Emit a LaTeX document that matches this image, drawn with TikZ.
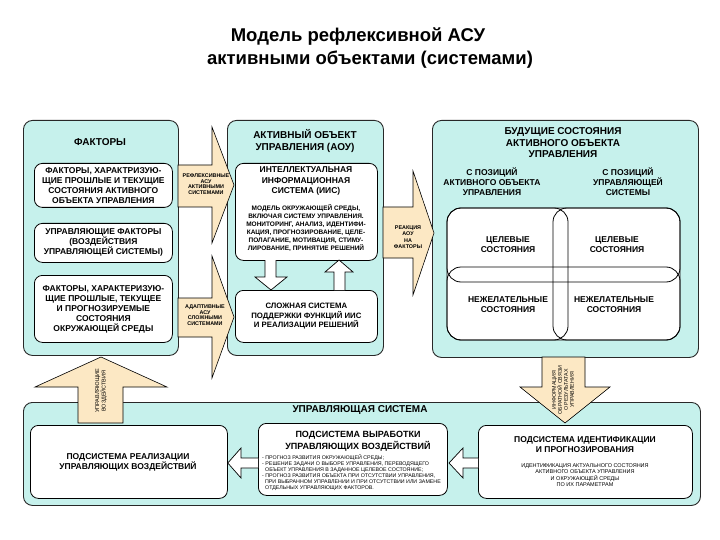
\documentclass[tikz,border=0pt]{standalone}
\usepackage{fontspec}
\setmainfont{Liberation Sans}
\definecolor{panelc}{RGB}{198,241,236}
\definecolor{arrowc}{RGB}{252,232,196}
\definecolor{edgec}{RGB}{40,40,40}
\newcommand{\fs}[2]{\fontsize{#1}{#2}\selectfont}
\begin{document}
\begin{tikzpicture}[x=1pt,y=-1pt,
  panel/.style={draw=edgec, fill=panelc, rounded corners=9pt, line width=0.9pt, anchor=north west, inner sep=0pt},
  wbox/.style={draw=black, fill=white, rounded corners=8pt, line width=0.8pt, anchor=north west, inner sep=0pt},
  barrow/.style={draw=black, fill=arrowc, line width=0.6pt, line join=miter},
  harrow/.style={draw=black, fill=white, line width=0.7pt},
  venn/.style={rounded corners=14pt, line width=0.8pt},
  txt/.style={align=center, inner sep=0pt, font=\bfseries\fs{8.5}{10}},
  head/.style={align=center, inner sep=0pt, font=\bfseries\fs{10}{11.5}},
  tiny/.style={align=center, inner sep=0pt, font=\bfseries\fs{5.4}{5.6}}
]
\useasboundingbox (0,0) rectangle (720,540);
\fill[white] (0,0) rectangle (720,540);

% title
\node[anchor=base, inner sep=0pt, font=\bfseries\fs{18.5}{23}] (t1) at (358,42) {Модель рефлексивной АСУ};
\node[anchor=base, inner sep=0pt, font=\bfseries\fs{18.5}{23}] (t2) at (370,65) {активными объектами (системами)};

% panels
\node[panel, minimum width=155pt, minimum height=235pt] (lp) at (23,120) {};
\node[panel, minimum width=156pt, minimum height=235pt] (mp) at (227,120) {};
\node[panel, minimum width=266pt, minimum height=237pt] (rp) at (432,120) {};
\node[panel, minimum width=677pt, minimum height=103pt] (bp) at (23,402) {};

% big block arrows
\draw[barrow] (178,165) -- (212,165) -- (212,127) -- (234,185) -- (212,243) -- (212,207) -- (178,207) -- cycle;
\draw[barrow] (178,298) -- (212,298) -- (212,256) -- (234,317) -- (212,378) -- (212,337) -- (178,337) -- cycle;
\draw[barrow] (383,207) -- (413,207) -- (413,171) -- (434,233) -- (413,295) -- (413,258) -- (383,258) -- cycle;
\draw[barrow] (542,357) -- (542,387) -- (520,387) -- (565,423) -- (610,387) -- (585,387) -- (585,357) -- cycle;
\draw[barrow] (78,423) -- (78,387) -- (35,387) -- (101,357) -- (167,387) -- (123,387) -- (123,423) -- cycle;

\node[tiny] (la1) at (206,184) {РЕФЛЕКСИВНЫЕ\\АСУ\\АКТИВНЫМИ\\СИСТЕМАМИ};
\node[tiny] (la2) at (205,315) {АДАПТИВНЫЕ\\АСУ\\СЛОЖНЫМИ\\СИСТЕМАМИ};
\node[tiny, font=\bfseries\fs{5.4}{6.5}] (la3) at (408,237) {РЕАКЦИЯ\\АОУ\\НА\\ФАКТОРЫ};
\node[tiny, rotate=90, font=\fs{5.3}{6}] (la4) at (563,390) {ИНФОРМАЦИЯ\\ОБРАТНОЙ СВЯЗИ\\О РЕЗУЛЬТАТАХ\\УПРАВЛЕНИЯ};
\node[tiny, rotate=90, font=\fs{5.5}{6.5}] (la5) at (101,391) {УПРАВЛЯЮЩИЕ\\ВОЗДЕЙСТВИЯ};

% left panel
\node[head] (lh) at (100,142) {ФАКТОРЫ};
\node[wbox, minimum width=138pt, minimum height=44pt] (l1) at (34,163) {};
\node[txt] at (l1.center) {ФАКТОРЫ, ХАРАКТРИЗУЮ-\\ЩИЕ ПРОШЛЫЕ И ТЕКУЩИЕ\\СОСТОЯНИЯ АКТИВНОГО\\ОБЪЕКТА УПРАВЛЕНИЯ};
\node[wbox, minimum width=138pt, minimum height=39pt] (l2) at (34,223) {};
\node[txt] at (l2.center) {УПРАВЛЯЮЩИЕ ФАКТОРЫ\\(ВОЗДЕЙСТВИЯ\\УПРАВЛЯЮЩЕЙ СИСТЕМЫ)};
\node[wbox, minimum width=138pt, minimum height=67pt] (l3) at (34,275) {};
\node[txt] at (l3.center) {ФАКТОРЫ, ХАРАКТЕРИЗУЮ-\\ЩИЕ ПРОШЛЫЕ, ТЕКУЩЕЕ\\И ПРОГНОЗИРУЕМЫЕ\\СОСТОЯНИЯ\\ОКРУЖАЮЩЕЙ СРЕДЫ};

% middle panel
\node[head] (mh) at (305,141) {АКТИВНЫЙ ОБЪЕКТ\\УПРАВЛЕНИЯ (АОУ)};
\node[wbox, minimum width=142pt, minimum height=97pt] (m1) at (235,163) {};
\node[txt, font=\bfseries\fs{8.5}{10.5}] (m1h) at (306,181) {ИНТЕЛЛЕКТУАЛЬНАЯ\\ИНФОРМАЦИОННАЯ\\СИСТЕМА (ИИС)};
\node[txt, font=\bfseries\fs{6.5}{8}] (m1b) at (306,228) {МОДЕЛЬ ОКРУЖАЮЩЕЙ СРЕДЫ,\\ВКЛЮЧАЯ СИСТЕМУ УПРАВЛЕНИЯ.\\МОНИТОРИНГ, АНАЛИЗ, ИДЕНТИФИ-\\КАЦИЯ, ПРОГНОЗИРОВАНИЕ, ЦЕЛЕ-\\ПОЛАГАНИЕ, МОТИВАЦИЯ, СТИМУ-\\ЛИРОВАНИЕ, ПРИНЯТИЕ РЕШЕНИЙ};
\node[wbox, minimum width=142pt, minimum height=52pt] (m2) at (235,290) {};
\node[txt, font=\bfseries\fs{7.8}{9.5}] at (m2.center) {СЛОЖНАЯ СИСТЕМА\\ПОДДЕРЖКИ ФУНКЦИЙ ИИС\\И РЕАЛИЗАЦИИ РЕШЕНИЙ};
\draw[harrow] (265,260) -- (265,277) -- (255,277) -- (271,290) -- (287,277) -- (276,277) -- (276,260);
\draw[harrow] (334,290) -- (334,272) -- (325,272) -- (339,260) -- (353,272) -- (345,272) -- (345,290);

% right panel
\node[head] (rh) at (563,143) {БУДУЩИЕ СОСТОЯНИЯ\\АКТИВНОГО ОБЪЕКТА\\УПРАВЛЕНИЯ};
\node[txt, font=\bfseries\fs{8.5}{10}] (rs1) at (492,182) {С ПОЗИЦИЙ\\АКТИВНОГО ОБЪЕКТА\\УПРАВЛЕНИЯ};
\node[txt, font=\bfseries\fs{8.5}{10}] (rs2) at (628,182) {С ПОЗИЦИЙ\\УПРАВЛЯЮЩЕЙ\\СИСТЕМЫ};
\fill[white, venn] (447,208) rectangle (680,340);
\draw[venn] (447,208) rectangle (568,340);
\draw[venn] (553,208) rectangle (680,340);
\draw[venn] (447,208) rectangle (680,282);
\draw[venn] (447,267) rectangle (680,340);
\node[txt, font=\bfseries\fs{8.5}{10}] (c1) at (508,245) {ЦЕЛЕВЫЕ\\СОСТОЯНИЯ};
\node[txt, font=\bfseries\fs{8.5}{10}] (c2) at (617,245) {ЦЕЛЕВЫЕ\\СОСТОЯНИЯ};
\node[txt, font=\bfseries\fs{8.5}{10}] (c3) at (508,305) {НЕЖЕЛАТЕЛЬНЫЕ\\СОСТОЯНИЯ};
\node[txt, font=\bfseries\fs{8.5}{10}] (c4) at (614,305) {НЕЖЕЛАТЕЛЬНЫЕ\\СОСТОЯНИЯ};

% bottom panel
\node[head] (bh) at (360,410) {УПРАВЛЯЮЩАЯ СИСТЕМА};
\node[wbox, minimum width=197pt, minimum height=73pt] (b1) at (30,425) {};
\node[txt, font=\bfseries\fs{8.5}{10}] at (128,462) {ПОДСИСТЕМА РЕАЛИЗАЦИИ\\УПРАВЛЯЮЩИХ ВОЗДЕЙСТВИЙ};
\node[wbox, minimum width=189pt, minimum height=72pt] (b2) at (258,423) {};
\node[txt, font=\bfseries\fs{9}{12}] (b2h) at (358,441) {ПОДСИСТЕМА ВЫРАБОТКИ\\УПРАВЛЯЮЩИХ ВОЗДЕЙСТВИЙ};
\node[align=left, inner sep=0pt, anchor=west, font=\fs{5.3}{6}] (b2b) at (262,473) {- ПРОГНОЗ РАЗВИТИЯ ОКРУЖАЮЩЕЙ СРЕДЫ;\\- РЕШЕНИЕ ЗАДАЧИ О ВЫБОРЕ УПРАВЛЕНИЯ, ПЕРЕВОДЯЩЕГО\\\ \ ОБЪЕКТ УПРАВЛЕНИЯ В ЗАДАННОЕ ЦЕЛЕВОЕ СОСТОЯНИЕ;\\- ПРОГНОЗ РАЗВИТИЯ ОБЪЕКТА ПРИ ОТСУТСТВИИ УПРАВЛЕНИЯ,\\\ \ ПРИ ВЫБРАННОМ УПРАВЛЕНИИ И ПРИ ОТСУТСТВИИ ИЛИ ЗАМЕНЕ\\\ \ ОТДЕЛЬНЫХ УПРАВЛЯЮЩИХ ФАКТОРОВ.};
\node[wbox, minimum width=214pt, minimum height=73pt] (b3) at (478,425) {};
\node[txt, font=\bfseries\fs{8.5}{10}] (b3h) at (585,445) {ПОДСИСТЕМА ИДЕНТИФИКАЦИИ\\И ПРОГНОЗИРОВАНИЯ};
\node[align=center, inner sep=0pt, font=\fs{5.5}{6.3}] (b3b) at (585,475) {ИДЕНТИФИКАЦИЯ АКТУАЛЬНОГО СОСТОЯНИЯ\\АКТИВНОГО ОБЪЕКТА УПРАВЛЕНИЯ\\И ОКРУЖАЮЩЕЙ СРЕДЫ\\ПО ИХ ПАРАМЕТРАМ};
\draw[harrow] (b3.west |- 0,458) -- (463,458) -- (463,448) -- (449,463) -- (463,478) -- (463,468) -- (b3.west |- 0,468);
\draw[harrow] (b2.west |- 0,458) -- (241,458) -- (241,448) -- (b1.east |- 0,463) -- (241,478) -- (241,468) -- (b2.west |- 0,468);
\end{tikzpicture}
\end{document}
